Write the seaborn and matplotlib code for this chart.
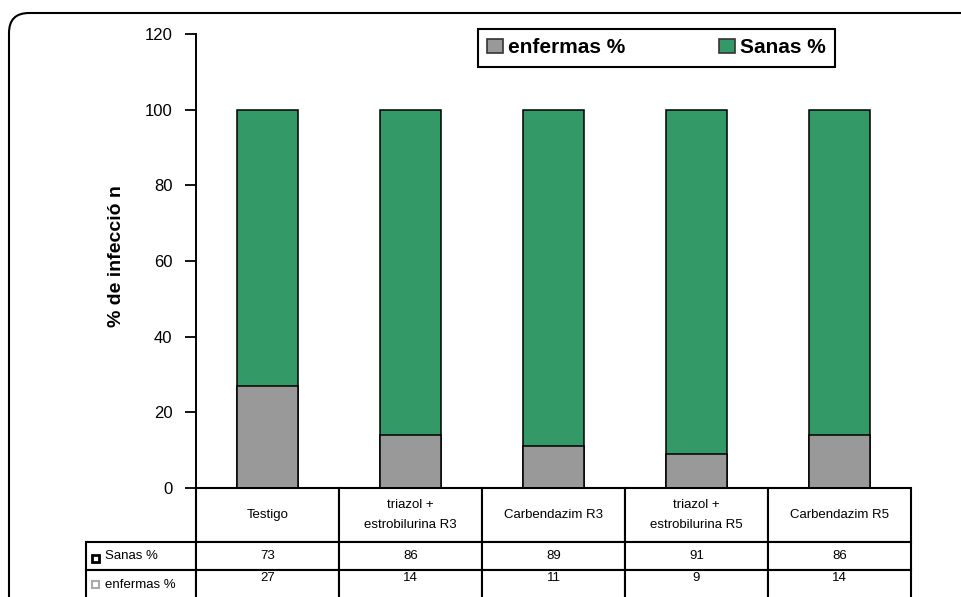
import numpy as np
import pandas as pd
import seaborn as sns
import matplotlib.pyplot as plt
from matplotlib.patches import Patch, Rectangle, FancyBboxPatch
from matplotlib.transforms import IdentityTransform

# values
tratamientos = ['Testigo', 'triazol +\nestrobilurina R3', 'Carbendazim R3',
                'triazol +\nestrobilurina R5', 'Carbendazim R5']
enfermas = [27, 14, 11, 9, 14]
sanas = [73, 86, 89, 91, 86]
y_ticks = [0, 20, 40, 60, 80, 100, 120]

verde = '#339966'
gris = '#999999'

sns.set_style('white')
plt.rcParams['font.family'] = ['Liberation Sans', 'DejaVu Sans']
plt.rcParams['text.color'] = 'black'
plt.rcParams['axes.labelcolor'] = 'black'
plt.rcParams['ytick.color'] = 'black'

df = pd.DataFrame({'tratamiento': tratamientos, 'enfermas': enfermas, 'sanas': sanas})
df['total'] = df['enfermas'] + df['sanas']

fig = plt.figure(figsize=(9.62, 5.97), dpi=100)
ax = fig.add_axes([196 / 962, 1 - 488 / 597, 715 / 962, 454 / 597])

# stacked bars: full height in green, diseased part in gray on top of it
sns.barplot(data=df, x='tratamiento', y='total', color=verde, saturation=1,
            width=0.42, edgecolor='black', linewidth=1.1, ax=ax)
sns.barplot(data=df, x='tratamiento', y='enfermas', color=gris, saturation=1,
            width=0.42, edgecolor='black', linewidth=1.1, ax=ax)

ax.set_ylim(0, 120)
ax.set_xlim(-0.5, 4.5)
ax.set_yticks(y_ticks)
ax.set_xticks([])
ax.set_xlabel('')
ax.set_ylabel('% de infecció n', fontsize=14, fontweight='bold')
ax.yaxis.set_label_coords(-0.099, 0.51)
ax.tick_params(axis='y', direction='out', length=8, width=1.3, pad=9,
               labelsize=12, color='black', labelcolor='black', left=True)
for side in ['top', 'right']:
    ax.spines[side].set_visible(False)
for side in ['left', 'bottom']:
    ax.spines[side].set_color('black')
    ax.spines[side].set_linewidth(1.4)

# legend
handles = [Patch(facecolor=gris, edgecolor='#333333', linewidth=1.2),
           Patch(facecolor=verde, edgecolor='#333333', linewidth=1.2)]
leg = ax.legend(handles, ['enfermas %', 'Sanas %'], ncol=2, loc='upper left',
                bbox_to_anchor=(0.394, 1.011), frameon=True, fancybox=False,
                framealpha=1, edgecolor='black',
                prop={'weight': 'bold', 'size': 15},
                handlelength=0.75, handleheight=0.65, handletextpad=0.25,
                columnspacing=4.5, borderpad=0.45, borderaxespad=0)
leg.get_frame().set_linewidth(1.5)

# data table under the axis, first column holds the row names
filas = [['Sanas %'] + [str(v) for v in sanas],
         ['enfermas %'] + [str(v) + '\n' for v in enfermas]]
tabla = ax.table(cellText=filas, colLabels=[''] + tratamientos,
                 cellLoc='center', colLoc='center',
                 colWidths=[110] + [143] * 5,
                 bbox=[-110 / 715, -112 / 454, 1 + 110 / 715, 112 / 454])
tabla.auto_set_font_size(False)
tabla.set_fontsize(9.5)
alturas = {0: 54, 1: 28, 2: 30}
for (r, c), cell in tabla.get_celld().items():
    cell.set_height(alturas[r])
    cell.set_linewidth(1.5)
    cell.set_edgecolor('black')
    cell.get_text().set_color('black')
    if r == 0:
        cell.get_text().set_linespacing(2.0)
    if c == 0:
        cell.get_text().set_ha('left')
        cell.PAD = 0.17
tabla[0, 0].visible_edges = 'open'

# small keys in front of the row labels
fig.add_artist(Rectangle((92, 597 - 562), 7, 7, transform=IdentityTransform(),
                         facecolor='white', edgecolor='black', linewidth=2))
fig.add_artist(Rectangle((92, 597 - 588), 7, 7, transform=IdentityTransform(),
                         facecolor='white', edgecolor='#aaaaaa', linewidth=1.5))

# rounded outer frame
fig.add_artist(FancyBboxPatch((9, -20), 975, 584 + 20, transform=IdentityTransform(),
                              boxstyle='round,pad=0,rounding_size=20',
                              facecolor='none', edgecolor='black', linewidth=1.5))

fig.savefig('out.png', dpi=100)
